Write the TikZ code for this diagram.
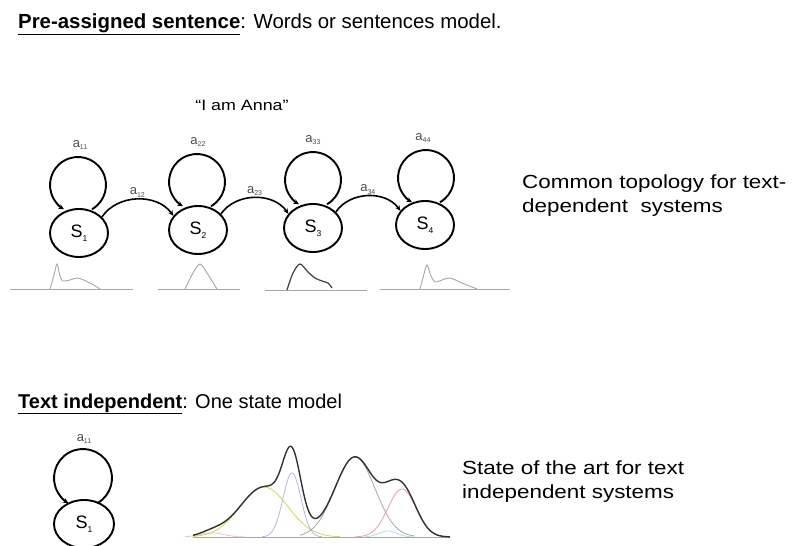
\documentclass[tikz,border=0pt]{standalone}
\usepackage{fontspec}
\setmainfont{Liberation Sans}
\usetikzlibrary{shapes.geometric,arrows.meta,calc}
\newcommand\ssub[1]{\raisebox{-4pt}{\fontsize{8.5}{8.5}\selectfont #1}}
\newcommand\asub[1]{\raisebox{-2.5pt}{\fontsize{7}{7}\selectfont #1}}
\begin{document}
\begin{tikzpicture}[x=1pt,y=1pt,
  st/.style={ellipse,draw,line width=1.9pt,minimum width=58pt,minimum height=48pt,inner sep=0pt,font=\fontsize{18}{18}\selectfont},
  loopln/.style={line width=1.9pt,-{Stealth[length=5.5pt,width=5pt]}},
  trans/.style={line width=1.6pt,-{Stealth[length=5.5pt,width=5pt]}},
  lab/.style={font=\fontsize{13}{13}\selectfont,text=black!70,inner sep=1pt},
  head/.style={anchor=base west,inner sep=0pt,font=\fontsize{20.4}{24}\selectfont},
  side/.style={anchor=north west,inner sep=0pt,align=left,xscale=1.18,font=\fontsize{19}{24}\selectfont},
  base/.style={draw=black!35,line width=0.9pt},
  pdf/.style={draw=black!35,line width=0.9pt},
  comp/.style={line width=0.8pt},
  declare function={
    g(\x,\m,\s,\h)=\h*exp(max(-12,-0.5*((\x-\m)/\s)*((\x-\m)/\s)));
    envf(\x)=g(\x,212,12,4)+g(\x,264,24,50)+g(\x,292,9,64)+g(\x,355,20,80)+g(\x,402,14,48)+g(\x,388,9,6);
  }]
\useasboundingbox (0,0) rectangle (793,-546);

% headings
\node[head] (title) at (18,-28) {\underline{\textbf{Pre-assigned sentence}}: Words or sentences model.};
\node[anchor=base,inner sep=0pt,xscale=1.19,font=\fontsize{15}{15}\selectfont] (anna) at (242,-110) {“I am Anna”};
\node[side] (common) at (522,-174.5) {Common topology for text-\\dependent\ \ systems};

% states
\node[st] (s1) at (79,-233) {S\ssub{1}};
\node[st] (s2) at (198,-230) {S\ssub{2}};
\node[st] (s3) at (313,-228) {S\ssub{3}};
\node[st] (s4) at (425,-225) {S\ssub{4}};

% self loops
\coordinate (l1) at (78,-185);
\coordinate (l2) at (197,-182);
\coordinate (l3) at (313,-180);
\coordinate (l4) at (426,-178);
\draw[loopln] ($(l1)+(-60:28)$) arc[start angle=-60,end angle=240,radius=28];
\draw[loopln] ($(l2)+(-60:28)$) arc[start angle=-60,end angle=240,radius=28];
\draw[loopln] ($(l3)+(-60:28)$) arc[start angle=-60,end angle=240,radius=28];
\draw[loopln] ($(l4)+(-60:28)$) arc[start angle=-60,end angle=240,radius=28];
\node[lab] (a11) at ($(l1)+(2,40)$) {a\asub{11}};
\node[lab] (a22) at ($(l2)+(1,40)$) {a\asub{22}};
\node[lab] (a33) at ($(l3)+(0,40)$) {a\asub{33}};
\node[lab] (a44) at ($(l4)+(-3,40)$) {a\asub{44}};

% transitions
\draw[trans] (s1.35) to[bend left=55] node[lab,midway,above=0pt] (a12) {a\asub{12}} (s2.150);
\draw[trans] (s2.35) to[bend left=55] node[lab,midway,above=0pt] (a23) {a\asub{23}} (s3.150);
\draw[trans] (s3.35) to[bend left=55] node[lab,midway,above=0pt] (a34) {a\asub{34}} (s4.150);

% output distributions
\draw[base] (10,-289) -- (133,-289);
\draw[base] (158,-289) -- (240,-289);
\draw[base] (265,-290) -- (367,-290);
\draw[base] (380,-289) -- (510,-289);
\draw[pdf] plot[smooth,tension=0.5] coordinates {(50,-289) (54,-275) (57,-264) (60,-276) (63,-281) (70,-280) (78,-278) (90,-283) (100,-289)};
\draw[pdf] plot[smooth,tension=0.5] coordinates {(185,-289) (193,-273) (200,-264) (207,-273) (217,-289)};
\draw[draw=black!75,line width=1.2pt] plot[smooth,tension=0.5] coordinates {(287,-290) (293,-273) (300,-264) (308,-272) (315,-278) (322,-281) (328,-283) (332,-288)};
\draw[pdf] plot[smooth,tension=0.5] coordinates {(420,-289) (424,-274) (427,-265) (431,-276) (435,-282) (442,-280) (450,-278) (462,-283) (477,-289)};

% text independent
\node[head,font=\fontsize{20}{24}\selectfont] (ti) at (18,-408) {\underline{\textbf{Text independent}}: One state model};
\node[st,minimum width=60pt] (t1) at (84,-524) {S\ssub{1}};
\coordinate (lt) at (83,-478);
\draw[loopln] ($(lt)+(-60:29)$) arc[start angle=-60,end angle=240,radius=29];
\node[lab] (at11) at ($(lt)+(1,39)$) {a\asub{11}};

% mixture
\draw[base] (193,-537) -- (450,-537);
\draw[comp,draw=red!25] plot[domain=185:245,samples=60] (\x,{-537+g(\x,212,12,4)});
\draw[comp,draw=olive!45!yellow!70] plot[domain=193:340,samples=100] (\x,{-537+g(\x,264,24,50)});
\draw[comp,draw=blue!30] plot[domain=262:322,samples=60] (\x,{-537+g(\x,292,9,64)});
\draw[comp,draw=black!35] plot[domain=300:415,samples=80] (\x,{-537+g(\x,355,20,80)});
\draw[comp,draw=red!40] plot[domain=355:445,samples=80] (\x,{-537+g(\x,402,14,48)});
\draw[comp,draw=cyan!35] plot[domain=365:412,samples=50] (\x,{-537+g(\x,388,9,6)});
\draw[draw=black!80,line width=1.4pt] plot[domain=193:450,samples=220] (\x,{-537+envf(\x)});

\node[side] (sota) at (462,-461) {State of the art for text\\independent systems};
\end{tikzpicture}
\end{document}
